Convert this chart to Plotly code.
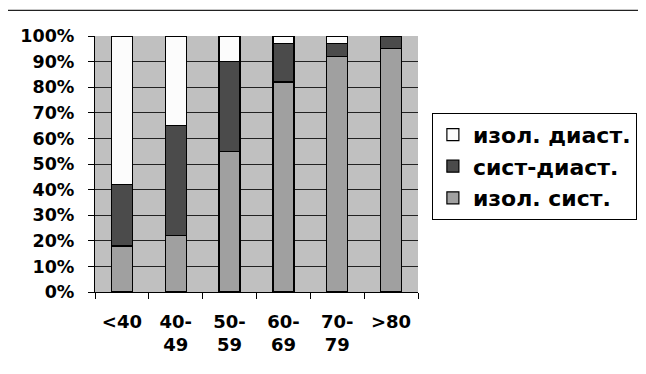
import plotly.graph_objects as go

categories = ["<40", "40-<br>49", "50-<br>59", "60-<br>69", "70-<br>79", ">80"]
isol_sist = [18, 22, 55, 82, 92, 95]
sist_diast = [24, 43, 35, 15, 5, 5]
isol_diast = [58, 35, 10, 3, 3, 0]
y_ticks = list(range(0, 101, 10))
y_labels = [f"{v}%" for v in y_ticks]

FONT = "DejaVu Sans"

fig = go.Figure()
series = [
    ("изол. сист.", isol_sist, "#A0A0A0", 3),
    ("сист-диаст.", sist_diast, "#4B4B4B", 2),
    ("изол. диаст.", isol_diast, "#FCFCFC", 1),
]
for i, (name, vals, col, rank) in enumerate(series):
    fig.add_trace(go.Bar(
        x=categories, y=vals, name=name, legendgroup=f"g{i}", legendrank=rank,
        marker=dict(color=col, line=dict(color="black", width=1.2)),
        width=0.39,
    ))

fig.update_layout(
    width=646, height=374,
    barmode="stack",
    paper_bgcolor="white",
    plot_bgcolor="#C0C0C0",
    margin=dict(l=87, r=236, t=28, b=90, autoexpand=False),
    showlegend=True,
    legend=dict(
        x=1.043, y=0.70, xanchor="left", yanchor="top",
        traceorder="grouped", tracegroupgap=0,
        bordercolor="black", borderwidth=1, bgcolor="white",
        font=dict(family=FONT, size=22, color="black", weight="bold"),
    ),
    shapes=[dict(type="line", xref="paper", yref="paper",
                 x0=-0.272, x1=1.706, y0=1.10, y1=1.10,
                 line=dict(color="#222", width=1.2))],
)
fig.update_xaxes(
    type="category", tickson="boundaries", ticks="outside", ticklen=6,
    tickcolor="black", showgrid=False, showline=True, linecolor="black", linewidth=1.2,
    tickfont=dict(family=FONT, size=18, color="black", weight="bold"),
    ticklabelstandoff=13,
    range=[-0.5, 5.5],
)
fig.update_yaxes(
    range=[0, 100], tickvals=y_ticks, ticktext=y_labels,
    ticks="outside", ticklen=6, tickcolor="black",
    showgrid=True, gridcolor="#222", gridwidth=1,
    showline=True, linecolor="black", linewidth=1.2, mirror=False,
    tickfont=dict(family=FONT, size=17.5, color="black", weight="bold"),
    ticklabelstandoff=10,
    zeroline=False,
)
fig.write_html("out.html")
